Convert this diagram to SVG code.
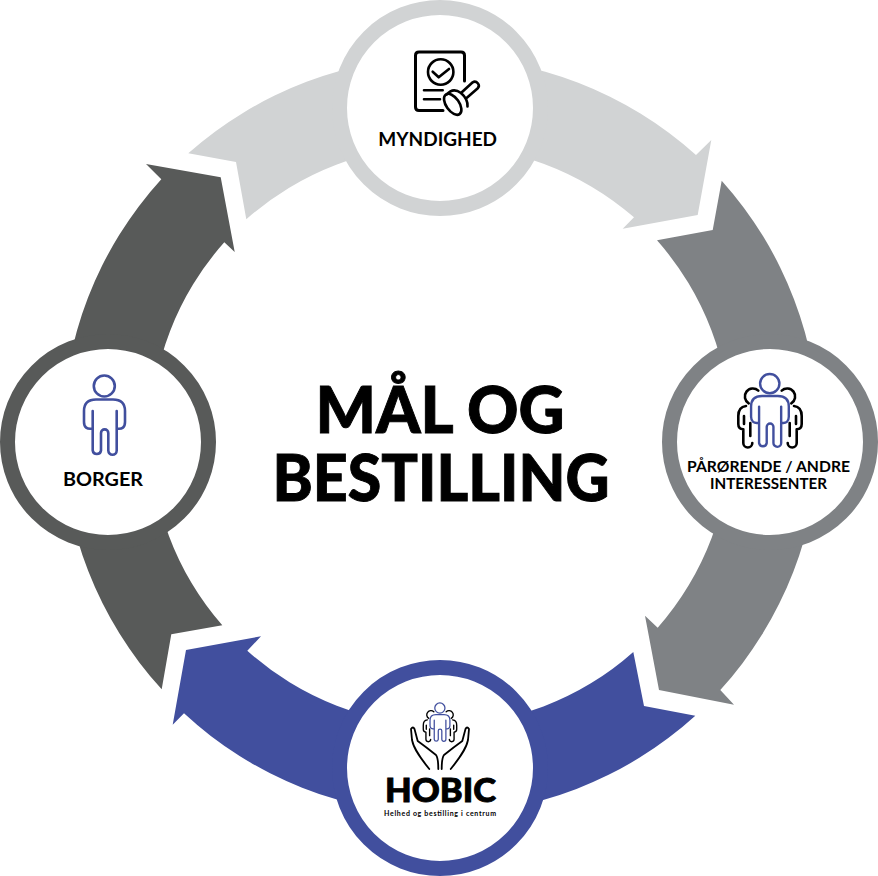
<svg xmlns="http://www.w3.org/2000/svg" xmlns:xlink="http://www.w3.org/1999/xlink" width="878" height="876" viewBox="0 0 878 876">
<style>
text{font-family:"Lato","Liberation Sans",sans-serif;font-weight:700;fill:#000;text-anchor:middle}
.disc{fill:#fff;stroke-width:15}
.k{fill:none;stroke:#000;stroke-width:2.6;stroke-linecap:round;stroke-linejoin:round}
.b{fill:none;stroke:#414f9e;stroke-width:2.6;stroke-linecap:round;stroke-linejoin:round}
.lbl{font-size:18.5px}
.heavy{font-weight:900;stroke:#000;stroke-width:.9px}
</style>
<defs>
<g id="person">
<circle class="b" cx="104.3" cy="386" r="10.5"/>
<path class="b" d="M92.7 411V450.5a4.2 4.2 0 0 0 8.3 0V433a3.6 3.6 0 0 1 7.3 0V450.5a4.2 4.2 0 0 0 8.4 0V411M92.7 428.5Q84 430 84 422V411Q84 399.5 96 399.5H113Q125 399.5 125 411V422Q125 430 116.7 428.5"/>
</g>
<g id="side">
<path class="k" d="M758.3 390.6A8 8 0 1 0 748.7 403.3M746 406Q738.3 407 738.3 416V424Q738.3 429 743.3 429.3V443A4.5 4.5 0 0 0 752.3 443M750.3 423V436M744 416V424"/>
</g>
<g id="family">
<use href="#side" xlink:href="#side"/>
<use href="#side" xlink:href="#side" transform="translate(1540 0) scale(-1 1)"/>
<use href="#person" xlink:href="#person" transform="translate(673.8 28.5) scale(.92)"/>
</g>
</defs>
<g id="connectors">
<path id="arrow-myndighed" fill="#d1d3d4" d="M188.3 153.3A381 381 0 0 1 696 155L711.3 140L697.7 215L622.7 228.7L634 217.3A294 294 0 0 0 246.3 219.3L236 162Z"/>
<path id="arrow-parorende" fill="#7f8285" d="M721.7 180.7L712.7 230L657 240.3A293 293 0 0 1 657.7 627.7L645 615.7L659 690L734 704.7L720.3 690A380 380 0 0 0 721.7 180.7Z"/>
<path id="arrow-hobic" fill="#414f9e" d="M633.3 652L644 706L695.3 715.7A378 378 0 0 1 184 713.3L172.7 724.7L186 650L261 636.3L247.3 650.7A289 289 0 0 0 633.3 652Z"/>
<path id="arrow-borger" fill="#585a59" d="M222.3 625.3L171.3 634.3L161.7 689.3A378 378 0 0 1 161.3 179.3L146 164L220.7 177.3L234.7 252L224.3 242.3A289 289 0 0 0 222.3 625.3Z"/>
</g>
<g id="node-myndighed">
<circle class="disc" stroke="#d1d3d4" cx="440" cy="108" r="100.5"/>
<path class="k" style="stroke-width:3" d="M443 110.5H419Q415.5 110.5 415.5 107V55.5Q415.5 52 419 52H461Q464.5 52 464.5 55.5V81"/>
<circle class="k" cx="440.7" cy="72" r="12.7"/>
<path class="k" d="M432.7 71.7L438.7 77.3L449 69M424 90.3H442.7M424 99.3H440"/>
<path class="k" d="M446.7 94.5Q453 87 461 93Q468 99 467.5 106.5M461 93L472.7 82.3Q475.5 80.5 478 83.5Q480 86 477.5 88.5L466 98.5"/>
<ellipse class="k" cx="452.7" cy="104.3" rx="12" ry="6.5" transform="rotate(55 452.7 104.3)"/>
<text class="lbl" x="437.7" y="145.7" textLength="118.7" lengthAdjust="spacingAndGlyphs">MYNDIGHED</text>
</g>
<g id="node-parorende">
<circle class="disc" stroke="#7f8285" cx="770" cy="442" r="100.5"/>
<use href="#family" xlink:href="#family"/>
<text x="768.5" y="471.7" font-size="16" textLength="163" lengthAdjust="spacingAndGlyphs">PÅRØRENDE / ANDRE</text>
<text x="768.5" y="489.3" font-size="16" textLength="117" lengthAdjust="spacingAndGlyphs">INTERESSENTER</text>
</g>
<g id="node-hobic">
<circle class="disc" stroke="#414f9e" cx="440" cy="768" r="100.5"/>
<g transform="translate(440 703) scale(.527) translate(-770 -374)"><use href="#family" xlink:href="#family"/></g>
<path class="k" style="stroke-width:1.8" d="M429.3 769C422 760 414 750 412 740L411 729Q413 726 414.5 729L417.7 741Q426 747 436 755Q438.3 758 438.3 769M450.7 769C458 760 466 750 468 740L469 729Q467 726 465.5 729L462.3 741Q454 747 444 755Q441.7 758 441.7 769"/>
<text class="heavy" x="440.5" y="802.3" font-size="33" textLength="111" lengthAdjust="spacingAndGlyphs">HOBIC</text>
<text x="440" y="815.7" font-size="7" textLength="112" lengthAdjust="spacing">Helhed og bestilling i centrum</text>
</g>
<g id="node-borger">
<circle class="disc" stroke="#585a59" cx="108" cy="442" r="100.5"/>
<use href="#person" xlink:href="#person"/>
<text class="lbl" x="103" y="485.7" textLength="80" lengthAdjust="spacingAndGlyphs">BORGER</text>
</g>
<g id="title">
<text class="heavy" font-size="64"><tspan x="440" y="432.7" textLength="249" lengthAdjust="spacingAndGlyphs">MÅL OG</tspan><tspan x="441" y="500.7" textLength="337" lengthAdjust="spacingAndGlyphs">BESTILLING</tspan></text>
</g>
</svg>
